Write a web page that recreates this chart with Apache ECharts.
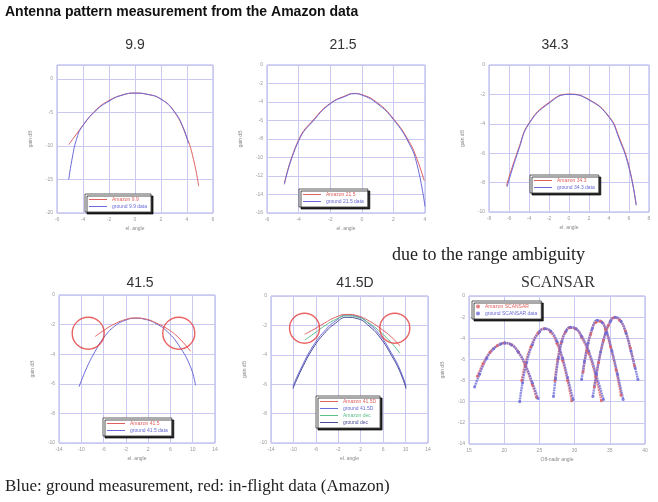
<!DOCTYPE html>
<html><head><meta charset="utf-8">
<script src="https://cdn.jsdelivr.net/npm/echarts@6/dist/echarts.min.js"></script>
<style>html,body{margin:0;padding:0;background:#fff}#c{width:658px;height:502px}</style>
</head><body><div id="c"></div>
<script>
// ---------- data ----------
const panelTitles = ['9.9', '21.5', '34.3', '41.5', '41.5D', 'SCANSAR'];
const xAxisNames = ['el. angle', 'el. angle', 'el. angle', 'el. angle', 'el. angle', 'Off-nadir angle'];
const yAxisNames = ['gain dB', 'gain dB', 'gain dB', 'gain dB', 'gain dB', 'gain dB'];
// axis ranges: [min, max, interval]
const xRanges = [[-6, 6, 2], [-6, 4, 2], [-8, 8, 2], [-14, 14, 4], [-14, 14, 4], [15, 40, 5]];
const yRanges = [[-20, 2.1, 5], [-16, 0, 2], [-10, 0, 2], [-10, 0, 2], [-10, 0, 2], [-14, 0, 2]];

// Panel 1 (9.9)
const p1Red  = [[-5.1,-9.8],[-4.5,-8.2],[-4,-6.9],[-3,-4.6],[-2,-3.2],[-1,-2.4],[0,-2.1],[1,-2.3],[2,-3.0],[3,-4.8],[4,-8.8],[4.5,-12],[4.9,-16]];
const p1Blue = [[-5.1,-15],[-4.8,-11.5],[-4.5,-9],[-4.1,-7.2],[-3,-4.7],[-2,-3.3],[-1,-2.4],[0,-2.1],[1,-2.3],[2,-3.0],[3,-4.8],[3.7,-7.2],[4.1,-9.6]];
// Panel 2 (21.5)
const p2Red  = [[-4.9,-12.8],[-4,-8.1],[-3,-5.8],[-2,-4.15],[-1,-3.3],[-0.5,-3.07],[0,-3.2],[1,-4.1],[2,-5.8],[3,-8.3],[3.5,-10.2],[3.95,-12.5]];
const p2Blue = [[-4.9,-12.9],[-4,-8.2],[-3,-5.9],[-2,-4.2],[-1,-3.35],[-0.5,-3.1],[0,-3.25],[1,-4.2],[2,-5.9],[3,-8.5],[3.5,-10.8],[4,-15.3]];
// Panel 3 (34.3)
const p3Red  = [[-6.26,-8.2],[-5,-5.6],[-4,-3.95],[-2,-2.55],[0,-1.98],[2,-2.35],[4,-3.5],[5,-4.9],[6,-6.9],[6.7,-9.5]];
const p3Blue = [[-6.2,-8.3],[-5,-5.7],[-4,-4.0],[-2,-2.6],[0,-2.0],[2,-2.38],[4,-3.55],[5,-5.0],[6,-7.0],[6.73,-9.55]];
// Panel 4 (41.5)
const p4Blue = [[-10.4,-6.2],[-9,-4.9],[-7.5,-3.8],[-6,-2.9],[-4,-2.1],[-2,-1.7],[-0.3,-1.57],[1.5,-1.65],[3.5,-1.95],[5.5,-2.5],[7.5,-3.4],[9.6,-4.85],[10.5,-6.1]];
const p4Red  = [[-7.5,-2.8],[-6,-2.4],[-4,-1.95],[-2,-1.65],[-0.3,-1.55],[1.5,-1.62],[3.5,-1.9],[5.5,-2.3],[7.5,-2.9],[9.6,-3.8]];
const p4Circles = [[-8.76,-2.58],[7.5,-2.58]];
// Panel 5 (41.5D)
const p5Blue   = [[-10.1,-6.15],[-8.5,-4.8],[-6.5,-3.4],[-4.5,-2.4],[-2.5,-1.7],[-0.5,-1.3],[1.5,-1.4],[3.5,-1.9],[5.5,-2.7],[7.5,-3.9],[9,-5.0],[10.1,-6.15]];
const p5Purple = [[-10.1,-6.3],[-8.5,-4.95],[-6.5,-3.55],[-4.5,-2.55],[-2.5,-1.85],[-0.5,-1.45],[1.5,-1.55],[3.5,-2.05],[5.5,-2.85],[7.5,-4.05],[9,-5.15],[10.1,-6.3]];
const p5Red    = [[-8,-2.6],[-6.5,-2.3],[-4.5,-1.85],[-2.5,-1.45],[-0.5,-1.25],[1.5,-1.35],[3.5,-1.7],[5.5,-2.2],[7.5,-2.8],[9,-3.4]];
const p5Green  = [[-8,-3.0],[-6.5,-2.6],[-4.5,-2.05],[-2.5,-1.6],[-0.5,-1.35],[1.5,-1.45],[3.5,-1.85],[5.5,-2.45],[7.5,-3.2],[9,-3.9]];
const p5Circles = [[-8.02,-2.19],[8.08,-2.19]];
// Panel 6 (SCANSAR) beams
const b1Blue = [[15.8,-8.6],[16.5,-7.4],[17.5,-5.9],[18.5,-5.0],[19.5,-4.55],[20.1,-4.45],[21,-4.6],[22,-5.3],[23,-6.5],[24,-8.2],[24.8,-9.7]];
const b1Red  = [[16.2,-7.6],[17,-6.4],[18,-5.3],[19,-4.7],[20,-4.45],[21,-4.6],[22,-5.3],[23,-6.6],[24,-8.4],[24.6,-9.6]];
const b2Blue = [[22.2,-10],[22.6,-8.2],[23.2,-6.3],[24,-4.6],[25,-3.4],[25.8,-3.1],[26.6,-3.3],[27.5,-4.3],[28.3,-5.9],[29,-7.7],[29.8,-9.8]];
const b2Red  = [[22.5,-8.0],[23,-6.4],[23.8,-4.8],[24.8,-3.5],[25.7,-3.1],[26.6,-3.4],[27.5,-4.5],[28.3,-6.1],[29,-8.0],[29.6,-9.9]];
const b3Blue = [[27,-9.5],[27.3,-7.8],[27.7,-5.9],[28.2,-4.3],[28.8,-3.3],[29.4,-2.95],[30.2,-3.1],[31,-3.8],[32,-5.2],[33,-7.3],[34.1,-9.8]];
const b3Red  = [[27.2,-8.0],[27.6,-6.0],[28.1,-4.4],[28.7,-3.4],[29.3,-3.0],[30.1,-3.1],[31,-3.9],[32,-5.4],[33,-7.6],[33.8,-9.9]];
const b4Blue = [[31,-7.9],[31.4,-6.2],[31.9,-4.5],[32.5,-3.1],[33.2,-2.3],[33.9,-2.5],[34.6,-3.5],[35.3,-5.2],[36.1,-7.4],[36.9,-9.8]];
const b4Red  = [[31.2,-7.2],[31.7,-5.2],[32.3,-3.6],[33,-2.5],[33.7,-2.4],[34.4,-3.2],[35.1,-4.8],[35.9,-7.0],[36.6,-9.4]];
const b5Blue = [[32.6,-9.5],[33.1,-7.4],[33.7,-5.3],[34.4,-3.5],[35.1,-2.4],[35.8,-2.0],[36.6,-2.4],[37.3,-3.5],[38,-5.2],[38.6,-6.8],[39,-7.9]];
const b5Red  = [[32.8,-8.6],[33.4,-6.3],[34.1,-4.2],[34.8,-2.8],[35.6,-2.05],[36.4,-2.3],[37.2,-3.3],[37.9,-4.9],[38.5,-6.6]];

// ---------- layout / style ----------
const grids = [
  {left: 57, top: 65, width: 156, height: 148},
  {left: 267, top: 65, width: 158, height: 148},
  {left: 489, top: 65, width: 160, height: 147},
  {left: 59, top: 295, width: 156, height: 148},
  {left: 271, top: 296, width: 157, height: 147},
  {left: 469, top: 296, width: 176, height: 148}
];
const RED = '#e06060', BLUE = '#6a6ad8', GREEN = '#5cc08a', PURPLE = '#4a4a9a';
const gridLine = '#c9c9f2', border = '#a8a8e6';

const xAxes = grids.map((g, i) => ({
  type: 'value', gridIndex: i, min: xRanges[i][0], max: xRanges[i][1], interval: xRanges[i][2],
  name: xAxisNames[i], nameLocation: 'middle', nameGap: 13,
  nameTextStyle: {fontSize: 5, color: '#888'},
  axisLine: {show: false}, axisTick: {show: false},
  axisLabel: {fontSize: 5, color: '#999', margin: 4, showMaxLabel: true},
  splitLine: {show: true, lineStyle: {color: gridLine, width: 1}}
}));
const yAxes = grids.map((g, i) => ({
  type: 'value', gridIndex: i, min: yRanges[i][0], max: yRanges[i][1], interval: yRanges[i][2],
  name: yAxisNames[i], nameLocation: 'middle', nameGap: 24, nameRotate: 90,
  nameTextStyle: {fontSize: 5, color: '#888'},
  axisLine: {show: false}, axisTick: {show: false},
  axisLabel: {fontSize: 5, color: '#999', margin: 4, showMaxLabel: i !== 0},
  splitLine: {show: true, lineStyle: {color: gridLine, width: 1}}
}));

function line(name, data, idx, color, extra) {
  return Object.assign({
    name, type: 'line', xAxisIndex: idx, yAxisIndex: idx, data,
    smooth: true, showSymbol: false, symbol: 'none',
    lineStyle: {color, width: 1}, itemStyle: {color}, z: 3
  }, extra || {});
}
function circles(name, data, idx, size) {
  return {name, type: 'scatter', xAxisIndex: idx, yAxisIndex: idx, data,
    symbol: 'circle', symbolSize: size,
    itemStyle: {color: 'rgba(0,0,0,0)', borderColor: '#e63b3b', borderWidth: 1.4}, z: 5, silent: true};
}
const dotted = c => ({showSymbol: true, symbol: 'circle', symbolSize: 3,
  lineStyle: {color: c, width: 2.4, type: [2, 0.6], opacity: 0.75}, itemStyle: {color: c, opacity: 0.8}});

const series = [
  line('Amazon 9.9', p1Red, 0, RED), line('ground 9.9 data', p1Blue, 0, BLUE),
  line('Amazon 21.5', p2Red, 1, RED), line('ground 21.5 data', p2Blue, 1, BLUE),
  line('Amazon 34.3', p3Red, 2, RED), line('ground 34.3 data', p3Blue, 2, BLUE),
  line('ground 41.5 data', p4Blue, 3, BLUE), line('Amazon 41.5', p4Red, 3, RED),
  circles('c4', p4Circles, 3, 32),
  line('ground 41.5D', p5Blue, 4, BLUE), line('ground dec', p5Purple, 4, PURPLE),
  line('Amazon 41.5D', p5Red, 4, RED), line('Amazon dec', p5Green, 4, GREEN),
  circles('c5', p5Circles, 4, 30)
];
[[b1Red, b1Blue], [b2Red, b2Blue], [b3Red, b3Blue], [b4Red, b4Blue], [b5Red, b5Blue]].forEach(([r, b]) => {
  series.push(line('Amazon SCANSAR', r, 5, RED, dotted(RED)));
  series.push(line('ground SCANSAR data', b, 5, BLUE, dotted(BLUE)));
});

function legend(left, top, items, icon) {
  return {
    left, top, orient: 'vertical', itemGap: 2, padding: [3, 4], itemWidth: icon === 'circle' ? 4 : 18,
    itemHeight: icon === 'circle' ? 4 : 1, icon: icon || 'rect', selectedMode: false,
    backgroundColor: '#fff', borderColor: '#333', borderWidth: 0.8,
    shadowColor: 'rgba(0,0,0,0.85)', shadowOffsetX: 2, shadowOffsetY: 2, shadowBlur: 0,
    data: items.map(([name, color]) => ({name, textStyle: {color, fontSize: 5}})),
    textStyle: {fontSize: 5}
  };
}
const legends = [
  legend(85, 194, [['Amazon 9.9', RED], ['ground 9.9 data', BLUE]]),
  legend(299, 189, [['Amazon 21.5', RED], ['ground 21.5 data', BLUE]]),
  legend(530, 175, [['Amazon 34.3', RED], ['ground 34.3 data', BLUE]]),
  legend(103, 418, [['Amazon 41.5', RED], ['ground 41.5 data', BLUE]]),
  legend(316, 396, [['Amazon 41.5D', RED], ['ground 41.5D', BLUE], ['Amazon dec', GREEN], ['ground dec', PURPLE]]),
  legend(472, 301, [['Amazon SCANSAR', RED], ['ground SCANSAR data', BLUE]], 'circle')
];

const titlePos = [[135, 45], [343, 45], [555, 45], [140, 283], [355, 283], [558, 283]];
const graphic = [
  {type: 'text', left: 5, top: 5, style: {text: 'Antenna pattern measurement from the Amazon data',
    font: 'bold 14px "Liberation Sans", Arial, sans-serif', fill: '#111'}},
  {type: 'text', left: 392, top: 246, style: {text: 'due to the range ambiguity',
    font: '18px "Liberation Serif", "Times New Roman", serif', fill: '#222'}},
  {type: 'text', left: 5, top: 478, style: {text: 'Blue: ground measurement, red: in-flight data (Amazon)',
    font: '17px "Liberation Serif", "Times New Roman", serif', fill: '#222'}}
];
panelTitles.forEach((t, i) => {
  const serif = t === 'SCANSAR';
  graphic.push({type: 'text', x: titlePos[i][0], y: titlePos[i][1], style: {text: t, textAlign: 'center', textVerticalAlign: 'middle',
    font: serif ? '16px "Liberation Serif", serif' : '14px "Liberation Sans", Arial, sans-serif', fill: '#333'}});
});

const chart = echarts.init(document.getElementById('c'), null, {renderer: 'canvas'});
chart.setOption({
  backgroundColor: '#fff',
  animation: false,
  grid: grids.map(g => Object.assign({show: true, borderColor: border, borderWidth: 1, backgroundColor: '#fff'}, g)),
  xAxis: xAxes, yAxis: yAxes,
  legend: legends,
  series,
  graphic
});
</script>
</body></html>
